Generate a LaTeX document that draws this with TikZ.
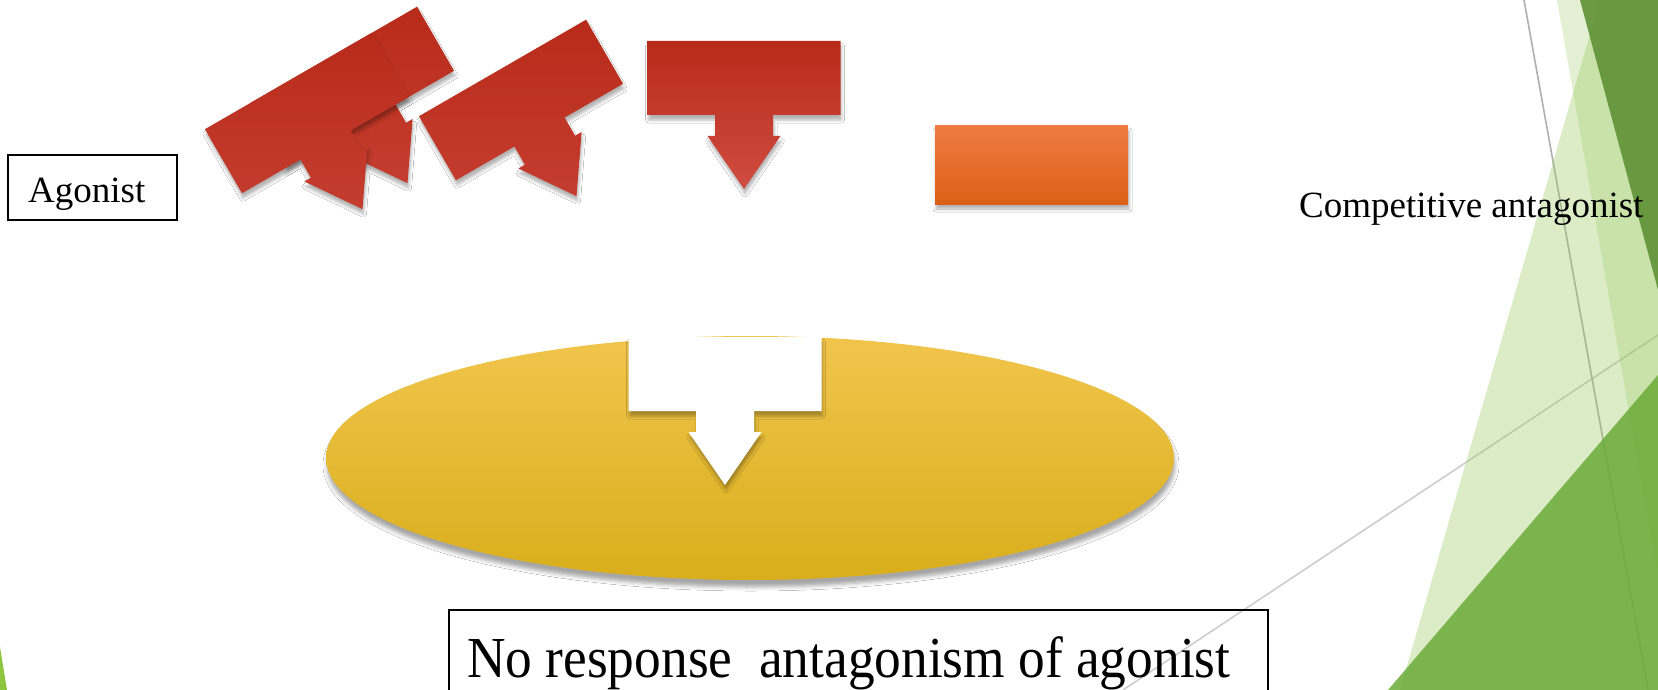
\documentclass[tikz,border=0pt]{standalone}
\usepackage{graphicx}
\usepackage{fontspec}
\setmainfont{Liberation Serif}
\usetikzlibrary{shadows.blur}

\definecolor{redtop}{RGB}{184,43,26}
\definecolor{redbot}{RGB}{207,76,64}
\definecolor{orangetop}{RGB}{240,123,67}
\definecolor{orangebot}{RGB}{219,96,22}
\definecolor{goldtop}{RGB}{241,197,76}
\definecolor{goldbot}{RGB}{217,174,28}
\definecolor{facetlight}{RGB}{150,200,88}
\definecolor{darkgreen}{RGB}{94,144,53}
\definecolor{midgreen}{RGB}{107,171,55}
\definecolor{limegreen}{RGB}{140,198,63}
\definecolor{lightline}{RGB}{205,205,205}
\definecolor{greyline}{RGB}{175,175,175}

% outline of a bar with a downward arrow below it, centred on the bar
\newcommand{\teearrow}{(-96.5,-37) -- (96.5,-37) -- (96.5,37) -- (29,37) -- (29,58) -- (36.5,58) -- (0,111) -- (-36.5,58) -- (-29,58) -- (-29,37) -- (-96.5,37) -- cycle}

\tikzset{
  softshadow/.style={blur shadow={shadow xshift=1pt, shadow yshift=-5pt, shadow blur radius=3pt, shadow opacity=30}},
  redarrow/.style={softshadow, top color=redtop, bottom color=redbot},
  redtilted/.style={softshadow, top color=redtop, middle color=redtop, bottom color=redtop!45!redbot},
  txt/.style={font=\fontsize{37}{44}\selectfont, inner sep=0pt, anchor=base west},
  framebox/.style={draw=black, line width=1.6pt, inner sep=0pt},
}

\begin{document}
\begin{tikzpicture}[x=1pt,y=-1pt]
\fill[white] (0,0) rectangle (1658,690);
\useasboundingbox (0,0) rectangle (1658,690);
\clip (0,0) rectangle (1658,690);

% slide decoration: thin lines and translucent facets
\fill[limegreen] (0,647) -- (7,690) -- (0,690) -- cycle;
\draw[lightline, line width=1.6pt] (1123,690) -- (1658,335);
\draw[greyline, line width=1.6pt] (1524,0) -- (1648,690);
\fill[facetlight, opacity=0.34] (1400,690) -- (1600,0) -- (1658,0) -- (1658,690) -- cycle;
\fill[facetlight, opacity=0.26] (1557,0) -- (1658,0) -- (1658,578) -- cycle;
\fill[darkgreen, opacity=0.9] (1580,0) -- (1658,0) -- (1658,290) -- cycle;
\fill[midgreen, opacity=0.85] (1388,690) -- (1658,375) -- (1658,690) -- cycle;

% agonist molecules
\path[redtilted, shift={(352,87)}, rotate=30] \teearrow;
\path[redtilted, shift={(307,113)}, rotate=30] \teearrow;
\path[redtilted, shift={(521,100)}, rotate=30] \teearrow;
\path[redarrow, shift={(744,78)}] \teearrow;

% antagonist
\path[softshadow, top color=orangetop, bottom color=orangebot] (935,126) rectangle (1128,204);

% receptor with occupied site
\path[blur shadow={shadow xshift=1pt, shadow yshift=-7pt, shadow blur radius=4pt, shadow opacity=35},
      top color=goldtop, bottom color=goldbot] (750,458) ellipse [x radius=424pt, y radius=122pt];
\path[softshadow, fill=white, shift={(725,374)}] \teearrow;

% labels
\node[framebox, minimum width=169pt, minimum height=65pt] (agbox) at (92.5,187.5) {};
\node[txt] (agonist) at (28,202) {Agonist};
\node[txt] (compet) at (1299,217) {Competitive antagonist};
\node[framebox, minimum width=819pt, minimum height=100pt] (respbox) at (858.5,660) {};
\node[anchor=base west, inner sep=0pt, font=\fontsize{58}{66}\selectfont] (resp) at (467,677)
  {\scalebox{0.92}[1]{No response\ \ antagonism of agonist}};
\end{tikzpicture}
\end{document}
